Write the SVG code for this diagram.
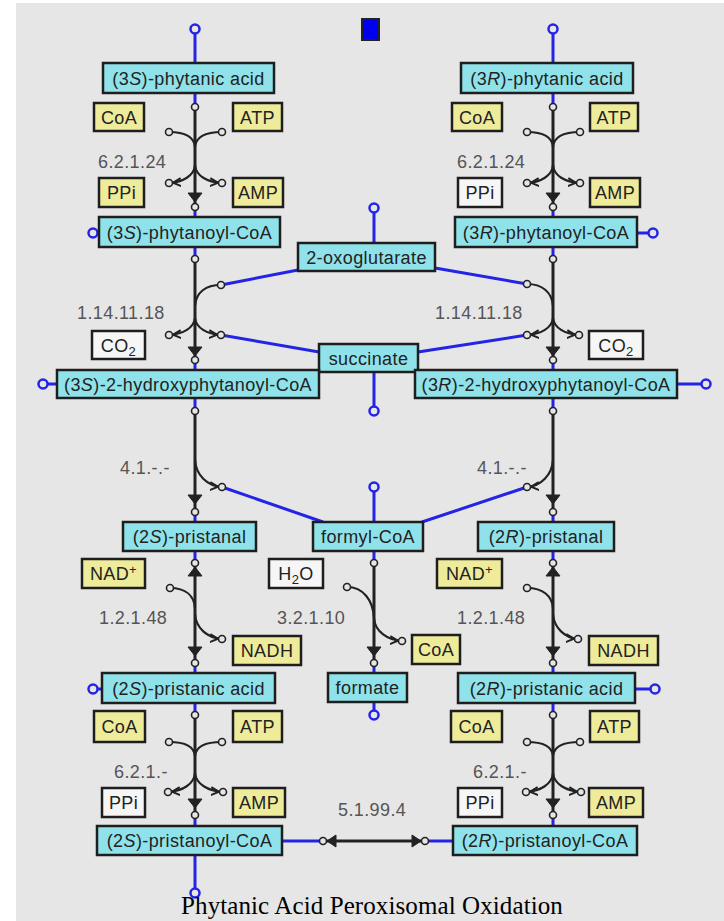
<svg xmlns="http://www.w3.org/2000/svg" width="724" height="921" viewBox="0 0 724 921">
<style>
.bg{fill:#e6e6e6}
.mol{fill:#90e2ea;stroke:#1e1e1e;stroke-width:2.5}
.cof{fill:#eeeb9b;stroke:#1e1e1e;stroke-width:2.5}
.side{fill:#f6f6f6;stroke:#1e1e1e;stroke-width:2.5}
text{font-family:"Liberation Sans",Arial,sans-serif;font-size:18px;letter-spacing:0.4px}
.t{fill:#222;text-anchor:middle}
.ec{fill:#555}
.i{font-style:italic}
.rx{stroke:#222;stroke-width:3;fill:none}
.br{stroke:#222;stroke-width:2.2;fill:none}
.bl{stroke:#2424e6;stroke-width:3;fill:none}
.pc{fill:#e6e6e6;stroke:#222;stroke-width:1.6}
.tc{fill:#e6e6e6;stroke:#2424e6;stroke-width:2.5}
.ah{fill:#222;stroke:#222;stroke-width:1}
.title{font-family:"Liberation Serif","Times New Roman",serif;font-size:25px;fill:#000;text-anchor:middle;letter-spacing:0.1px}
</style>
<defs>
<marker id="barb" viewBox="0 0 10 10" markerWidth="10" markerHeight="10" refX="12" refY="5" orient="auto" markerUnits="userSpaceOnUse">
<path d="M0,1 L8,5 L0,9" fill="none" stroke="#222" stroke-width="2"/>
</marker>
</defs>
<rect class="bg" x="16" y="3" width="708" height="918"/>
<rect id="legend-square" x="362" y="19" width="17" height="21" fill="#0000ee" stroke="#222" stroke-width="2"/>

<g id="connectors">
<line class="bl" x1="195" y1="29" x2="195" y2="63"/><circle class="tc" cx="195" cy="29" r="4.5"/>
<line class="bl" x1="553" y1="29" x2="553" y2="63"/><circle class="tc" cx="553" cy="29" r="4.5"/>
<line class="bl" x1="93" y1="233" x2="99" y2="233"/><circle class="tc" cx="93" cy="233" r="4.5"/>
<line class="bl" x1="637" y1="233" x2="653" y2="233"/><circle class="tc" cx="653" cy="233" r="4.5"/>
<line class="bl" x1="374" y1="208" x2="374" y2="243"/><circle class="tc" cx="374" cy="208" r="4.5"/>
<line class="bl" x1="43" y1="384" x2="57" y2="384"/><circle class="tc" cx="43" cy="384" r="4.5"/>
<line class="bl" x1="677" y1="384" x2="706" y2="384"/><circle class="tc" cx="706" cy="384" r="4.5"/>
<line class="bl" x1="374" y1="372" x2="374" y2="411"/><circle class="tc" cx="374" cy="411" r="4.5"/>
<line class="bl" x1="374" y1="487" x2="374" y2="522"/><circle class="tc" cx="374" cy="487" r="4.5"/>
<line class="bl" x1="93" y1="689" x2="102" y2="689"/><circle class="tc" cx="93" cy="689" r="4.5"/>
<line class="bl" x1="635" y1="689" x2="655" y2="689"/><circle class="tc" cx="655" cy="689" r="4.5"/>
<line class="bl" x1="374" y1="702" x2="374" y2="715"/><circle class="tc" cx="374" cy="715" r="4.5"/>
<line class="bl" x1="195" y1="855" x2="195" y2="893"/><circle class="tc" cx="195" cy="893" r="4.5"/>

<line class="bl" x1="195" y1="93" x2="195" y2="107"/><line class="bl" x1="195" y1="207" x2="195" y2="217"/>
<line class="bl" x1="553" y1="93" x2="553" y2="107"/><line class="bl" x1="553" y1="207" x2="553" y2="217"/>
<line class="bl" x1="195" y1="247" x2="195" y2="259"/><line class="bl" x1="195" y1="360" x2="195" y2="370"/>
<line class="bl" x1="553" y1="247" x2="553" y2="259"/><line class="bl" x1="553" y1="360" x2="553" y2="370"/>
<line class="bl" x1="298" y1="270" x2="221" y2="285"/><line class="bl" x1="435" y1="268" x2="527" y2="284"/>
<line class="bl" x1="319" y1="352" x2="221" y2="335"/><line class="bl" x1="418" y1="352" x2="527" y2="335"/>
<line class="bl" x1="195" y1="398" x2="195" y2="411"/><line class="bl" x1="195" y1="512" x2="195" y2="522"/>
<line class="bl" x1="553" y1="398" x2="553" y2="411"/><line class="bl" x1="553" y1="512" x2="553" y2="522"/>
<line class="bl" x1="323" y1="522" x2="222" y2="487"/><line class="bl" x1="422" y1="522" x2="527" y2="487"/>
<line class="bl" x1="195" y1="551" x2="195" y2="563"/><line class="bl" x1="195" y1="663" x2="195" y2="673"/>
<line class="bl" x1="553" y1="551" x2="553" y2="563"/><line class="bl" x1="553" y1="663" x2="553" y2="673"/>
<line class="bl" x1="374" y1="551" x2="374" y2="563"/><line class="bl" x1="374" y1="663" x2="374" y2="673"/>
<line class="bl" x1="195" y1="703" x2="195" y2="715"/><line class="bl" x1="195" y1="815" x2="195" y2="826"/>
<line class="bl" x1="553" y1="703" x2="553" y2="715"/><line class="bl" x1="553" y1="815" x2="553" y2="826"/>
<line class="bl" x1="282" y1="841" x2="323" y2="841"/><line class="bl" x1="425" y1="841" x2="453" y2="841"/>

<g id="r-6-2-1-24-left">
<line class="rx" x1="195" y1="107" x2="195" y2="207"/>
<path class="br" d="M169,132 C183,132 194,136 195,147"/>
<path class="br" d="M222,132 C207,132 196,136 195,147"/>
<path class="br" d="M195,165 C194,176 183,182 169,183" marker-end="url(#barb)"/>
<path class="br" d="M195,165 C196,176 207,182 222,183" marker-end="url(#barb)"/>
<path class="ah" d="M188,193 L202,193 L195,202 Z"/>
<circle class="pc" cx="195" cy="107" r="3.5"/><circle class="pc" cx="195" cy="207" r="3.5"/>
<circle class="pc" cx="169" cy="132" r="3.5"/><circle class="pc" cx="222" cy="132" r="3.5"/>
<circle class="pc" cx="169" cy="183" r="3.5"/><circle class="pc" cx="222" cy="183" r="3.5"/>
</g>
<g id="r-6-2-1-24-right">
<line class="rx" x1="553" y1="107" x2="553" y2="207"/>
<path class="br" d="M527,132 C541,132 552,136 553,147"/>
<path class="br" d="M580,132 C565,132 554,136 553,147"/>
<path class="br" d="M553,165 C552,176 541,182 527,183" marker-end="url(#barb)"/>
<path class="br" d="M553,165 C554,176 565,182 580,183" marker-end="url(#barb)"/>
<path class="ah" d="M546,193 L560,193 L553,202 Z"/>
<circle class="pc" cx="553" cy="107" r="3.5"/><circle class="pc" cx="553" cy="207" r="3.5"/>
<circle class="pc" cx="527" cy="132" r="3.5"/><circle class="pc" cx="580" cy="132" r="3.5"/>
<circle class="pc" cx="527" cy="183" r="3.5"/><circle class="pc" cx="580" cy="183" r="3.5"/>
</g>
<g id="r-1-14-11-18-left">
<line class="rx" x1="195" y1="259" x2="195" y2="360"/>
<path class="br" d="M221,285 C206,285 196,292 195,306"/>
<path class="br" d="M195,318 C194,328 183,334 169,335" marker-end="url(#barb)"/>
<path class="br" d="M195,318 C196,328 207,334 221,335" marker-end="url(#barb)"/>
<path class="ah" d="M188,347 L202,347 L195,356 Z"/>
<circle class="pc" cx="195" cy="259" r="3.5"/><circle class="pc" cx="195" cy="360" r="3.5"/>
<circle class="pc" cx="221" cy="285" r="3.5"/>
<circle class="pc" cx="169" cy="335" r="3.5"/><circle class="pc" cx="221" cy="335" r="3.5"/>
</g>
<g id="r-1-14-11-18-right">
<line class="rx" x1="553" y1="259" x2="553" y2="360"/>
<path class="br" d="M527,284 C542,284 552,292 553,306"/>
<path class="br" d="M553,318 C552,328 541,334 527,335" marker-end="url(#barb)"/>
<path class="br" d="M553,318 C554,328 565,334 579,335" marker-end="url(#barb)"/>
<path class="ah" d="M546,347 L560,347 L553,356 Z"/>
<circle class="pc" cx="553" cy="259" r="3.5"/><circle class="pc" cx="553" cy="360" r="3.5"/>
<circle class="pc" cx="527" cy="284" r="3.5"/>
<circle class="pc" cx="527" cy="335" r="3.5"/><circle class="pc" cx="579" cy="335" r="3.5"/>
</g>
<g id="r-4-1-left">
<line class="rx" x1="195" y1="411" x2="195" y2="512"/>
<path class="br" d="M195,460 C196,475 207,486 222,487" marker-end="url(#barb)"/>
<path class="ah" d="M188,495 L202,495 L195,504 Z"/>
<circle class="pc" cx="195" cy="411" r="3.5"/><circle class="pc" cx="195" cy="512" r="3.5"/>
<circle class="pc" cx="222" cy="487" r="3.5"/>
</g>
<g id="r-4-1-right">
<line class="rx" x1="553" y1="411" x2="553" y2="512"/>
<path class="br" d="M553,460 C552,475 541,486 527,487" marker-end="url(#barb)"/>
<path class="ah" d="M546,495 L560,495 L553,504 Z"/>
<circle class="pc" cx="553" cy="411" r="3.5"/><circle class="pc" cx="553" cy="512" r="3.5"/>
<circle class="pc" cx="527" cy="487" r="3.5"/>
</g>
<g id="r-1-2-1-48-left">
<line class="rx" x1="195" y1="563" x2="195" y2="663"/>
<path class="ah" d="M188,576 L202,576 L195,567 Z"/>
<path class="br" d="M170,588 C186,588 194,596 195,608"/>
<path class="br" d="M195,614 C196,628 207,638 222,639" marker-end="url(#barb)"/>
<path class="ah" d="M188,647 L202,647 L195,656 Z"/>
<circle class="pc" cx="195" cy="563" r="3.5"/><circle class="pc" cx="195" cy="663" r="3.5"/>
<circle class="pc" cx="170" cy="588" r="3.5"/><circle class="pc" cx="222" cy="639" r="3.5"/>
</g>
<g id="r-1-2-1-48-right">
<line class="rx" x1="553" y1="563" x2="553" y2="663"/>
<path class="ah" d="M546,576 L560,576 L553,567 Z"/>
<path class="br" d="M527,588 C543,588 552,596 553,608"/>
<path class="br" d="M553,614 C554,628 565,638 578,639" marker-end="url(#barb)"/>
<path class="ah" d="M546,647 L560,647 L553,656 Z"/>
<circle class="pc" cx="553" cy="563" r="3.5"/><circle class="pc" cx="553" cy="663" r="3.5"/>
<circle class="pc" cx="527" cy="588" r="3.5"/><circle class="pc" cx="578" cy="639" r="3.5"/>
</g>
<g id="r-3-2-1-10">
<line class="rx" x1="374" y1="563" x2="374" y2="663"/>
<path class="br" d="M347,587 C363,587 373,600 374,618"/>
<path class="br" d="M374,618 C375,632 388,640 402,641" marker-end="url(#barb)"/>
<path class="ah" d="M367,647 L381,647 L374,656 Z"/>
<circle class="pc" cx="374" cy="563" r="3.5"/><circle class="pc" cx="374" cy="663" r="3.5"/>
<circle class="pc" cx="347" cy="587" r="3.5"/><circle class="pc" cx="402" cy="641" r="3.5"/>
</g>
<g id="r-6-2-1-left">
<line class="rx" x1="195" y1="715" x2="195" y2="815"/>
<path class="br" d="M169,742 C183,742 194,745 195,756"/>
<path class="br" d="M222,742 C207,742 196,745 195,756"/>
<path class="br" d="M195,773 C194,784 183,791 168,792" marker-end="url(#barb)"/>
<path class="br" d="M195,773 C196,784 208,791 223,792" marker-end="url(#barb)"/>
<path class="ah" d="M188,799 L202,799 L195,808 Z"/>
<circle class="pc" cx="195" cy="715" r="3.5"/><circle class="pc" cx="195" cy="815" r="3.5"/>
<circle class="pc" cx="169" cy="742" r="3.5"/><circle class="pc" cx="222" cy="742" r="3.5"/>
<circle class="pc" cx="168" cy="792" r="3.5"/><circle class="pc" cx="223" cy="792" r="3.5"/>
</g>
<g id="r-6-2-1-right">
<line class="rx" x1="553" y1="715" x2="553" y2="815"/>
<path class="br" d="M527,742 C541,742 552,745 553,756"/>
<path class="br" d="M580,742 C565,742 554,745 553,756"/>
<path class="br" d="M553,773 C552,784 541,791 526,792" marker-end="url(#barb)"/>
<path class="br" d="M553,773 C554,784 566,791 581,792" marker-end="url(#barb)"/>
<path class="ah" d="M546,799 L560,799 L553,808 Z"/>
<circle class="pc" cx="553" cy="715" r="3.5"/><circle class="pc" cx="553" cy="815" r="3.5"/>
<circle class="pc" cx="527" cy="742" r="3.5"/><circle class="pc" cx="580" cy="742" r="3.5"/>
<circle class="pc" cx="526" cy="792" r="3.5"/><circle class="pc" cx="581" cy="792" r="3.5"/>
</g>
<g id="r-5-1-99-4">
<line class="rx" x1="323" y1="841" x2="425" y2="841"/>
<path class="ah" d="M327,841 L336,835 L336,847 Z"/>
<path class="ah" d="M421,841 L412,835 L412,847 Z"/>
<circle class="pc" cx="323" cy="841" r="3.5"/><circle class="pc" cx="425" cy="841" r="3.5"/>
</g>
</g>

<g id="ec-labels">
<text class="ec" x="98" y="168">6.2.1.24</text>
<text class="ec" x="457" y="168">6.2.1.24</text>
<text class="ec" x="77" y="319">1.14.11.18</text>
<text class="ec" x="435" y="319">1.14.11.18</text>
<text class="ec" x="120" y="474">4.1.-.-</text>
<text class="ec" x="477" y="474">4.1.-.-</text>
<text class="ec" x="99" y="624">1.2.1.48</text>
<text class="ec" x="457" y="624">1.2.1.48</text>
<text class="ec" x="277" y="624">3.2.1.10</text>
<text class="ec" x="114" y="778">6.2.1.-</text>
<text class="ec" x="473" y="778">6.2.1.-</text>
<text class="ec" x="338" y="816">5.1.99.4</text>
</g>

<g id="n-3S-phytanic-acid"><rect class="mol" x="103" y="63" width="171" height="30"/><text class="t" x="188.5" y="84.5">(3<tspan class="i">S</tspan>)-phytanic acid</text></g>
<g id="n-3R-phytanic-acid"><rect class="mol" x="461" y="63" width="172" height="30"/><text class="t" x="547" y="84.5">(3<tspan class="i">R</tspan>)-phytanic acid</text></g>
<g id="n-coa-1"><rect class="cof" x="94" y="103" width="50" height="28"/><text class="t" x="119" y="123.5">CoA</text></g>
<g id="n-atp-1"><rect class="cof" x="233" y="103" width="49" height="28"/><text class="t" x="257.5" y="123.5">ATP</text></g>
<g id="n-coa-2"><rect class="cof" x="452" y="103" width="50" height="28"/><text class="t" x="477" y="123.5">CoA</text></g>
<g id="n-atp-2"><rect class="cof" x="590" y="103" width="48" height="28"/><text class="t" x="614" y="123.5">ATP</text></g>
<g id="n-ppi-1"><rect class="cof" x="99" y="178" width="45" height="29"/><text class="t" x="121.5" y="198.5">PPi</text></g>
<g id="n-amp-1"><rect class="cof" x="233" y="178" width="50" height="29"/><text class="t" x="258" y="198.5">AMP</text></g>
<g id="n-ppi-2"><rect class="side" x="458" y="178" width="44" height="29"/><text class="t" x="480" y="198.5">PPi</text></g>
<g id="n-amp-2"><rect class="cof" x="590" y="178" width="50" height="29"/><text class="t" x="615" y="198.5">AMP</text></g>
<g id="n-3S-phytanoyl-CoA"><rect class="mol" x="99" y="217" width="181" height="30"/><text class="t" x="189.5" y="238.5">(3<tspan class="i">S</tspan>)-phytanoyl-CoA</text></g>
<g id="n-3R-phytanoyl-CoA"><rect class="mol" x="455" y="217" width="182" height="30"/><text class="t" x="546" y="238.5">(3<tspan class="i">R</tspan>)-phytanoyl-CoA</text></g>
<g id="n-2-oxoglutarate"><rect class="mol" x="298" y="243" width="137" height="28"/><text class="t" x="366.5" y="263.5">2-oxoglutarate</text></g>
<g id="n-co2-1"><rect class="side" x="92" y="331" width="53" height="28"/><text class="t" x="118.5" y="351.5">CO<tspan font-size="13" dy="4">2</tspan></text></g>
<g id="n-co2-2"><rect class="side" x="589" y="331" width="54" height="28"/><text class="t" x="616" y="351.5">CO<tspan font-size="13" dy="4">2</tspan></text></g>
<g id="n-succinate"><rect class="mol" x="319" y="344" width="99" height="28"/><text class="t" x="368.5" y="364.5">succinate</text></g>
<g id="n-3S-2-hydroxyphytanoyl-CoA"><rect class="mol" x="57" y="370" width="262" height="28"/><text class="t" x="188" y="390.5">(3<tspan class="i">S</tspan>)-2-hydroxyphytanoyl-CoA</text></g>
<g id="n-3R-2-hydroxyphytanoyl-CoA"><rect class="mol" x="415" y="370" width="262" height="28"/><text class="t" x="546" y="390.5">(3<tspan class="i">R</tspan>)-2-hydroxyphytanoyl-CoA</text></g>
<g id="n-2S-pristanal"><rect class="mol" x="123" y="522" width="133" height="29"/><text class="t" x="189.5" y="543">(2<tspan class="i">S</tspan>)-pristanal</text></g>
<g id="n-formyl-CoA"><rect class="mol" x="313" y="522" width="110" height="29"/><text class="t" x="368" y="543">formyl-CoA</text></g>
<g id="n-2R-pristanal"><rect class="mol" x="478" y="522" width="136" height="29"/><text class="t" x="546" y="543">(2<tspan class="i">R</tspan>)-pristanal</text></g>
<g id="n-nad-1"><rect class="cof" x="82" y="559" width="63" height="29"/><text class="t" x="113.5" y="580">NAD<tspan font-size="13" dy="-6">+</tspan></text></g>
<g id="n-h2o"><rect class="side" x="269" y="559" width="54" height="29"/><text class="t" x="296" y="580">H<tspan font-size="13" dy="4">2</tspan><tspan dy="-4">O</tspan></text></g>
<g id="n-nad-2"><rect class="cof" x="437" y="559" width="65" height="29"/><text class="t" x="469.5" y="580">NAD<tspan font-size="13" dy="-6">+</tspan></text></g>
<g id="n-nadh-1"><rect class="cof" x="233" y="636" width="68" height="29"/><text class="t" x="267" y="657">NADH</text></g>
<g id="n-coa-3"><rect class="cof" x="412" y="635" width="48" height="29"/><text class="t" x="436" y="656">CoA</text></g>
<g id="n-nadh-2"><rect class="cof" x="589" y="636" width="69" height="29"/><text class="t" x="623.5" y="657">NADH</text></g>
<g id="n-2S-pristanic-acid"><rect class="mol" x="102" y="673" width="173" height="30"/><text class="t" x="188.5" y="694.5">(2<tspan class="i">S</tspan>)-pristanic acid</text></g>
<g id="n-formate"><rect class="mol" x="328" y="673" width="79" height="29"/><text class="t" x="367.5" y="694">formate</text></g>
<g id="n-2R-pristanic-acid"><rect class="mol" x="458" y="673" width="177" height="30"/><text class="t" x="546.5" y="694.5">(2<tspan class="i">R</tspan>)-pristanic acid</text></g>
<g id="n-coa-4"><rect class="cof" x="94" y="711" width="51" height="31"/><text class="t" x="119.5" y="733">CoA</text></g>
<g id="n-atp-3"><rect class="cof" x="233" y="711" width="49" height="31"/><text class="t" x="257.5" y="733">ATP</text></g>
<g id="n-coa-5"><rect class="cof" x="451" y="711" width="51" height="31"/><text class="t" x="476.5" y="733">CoA</text></g>
<g id="n-atp-4"><rect class="cof" x="590" y="711" width="49" height="31"/><text class="t" x="614.5" y="733">ATP</text></g>
<g id="n-ppi-3"><rect class="side" x="102" y="788" width="43" height="29"/><text class="t" x="123.5" y="809">PPi</text></g>
<g id="n-amp-3"><rect class="cof" x="233" y="788" width="52" height="29"/><text class="t" x="259" y="809">AMP</text></g>
<g id="n-ppi-4"><rect class="side" x="458" y="788" width="44" height="29"/><text class="t" x="480" y="809">PPi</text></g>
<g id="n-amp-4"><rect class="cof" x="589" y="788" width="54" height="29"/><text class="t" x="616" y="809">AMP</text></g>
<g id="n-2S-pristanoyl-CoA"><rect class="mol" x="97" y="826" width="185" height="29"/><text class="t" x="189.5" y="847">(2<tspan class="i">S</tspan>)-pristanoyl-CoA</text></g>
<g id="n-2R-pristanoyl-CoA"><rect class="mol" x="453" y="826" width="184" height="29"/><text class="t" x="545" y="847">(2<tspan class="i">R</tspan>)-pristanoyl-CoA</text></g>

<text class="title" x="372" y="914">Phytanic Acid Peroxisomal Oxidation</text>
</svg>
